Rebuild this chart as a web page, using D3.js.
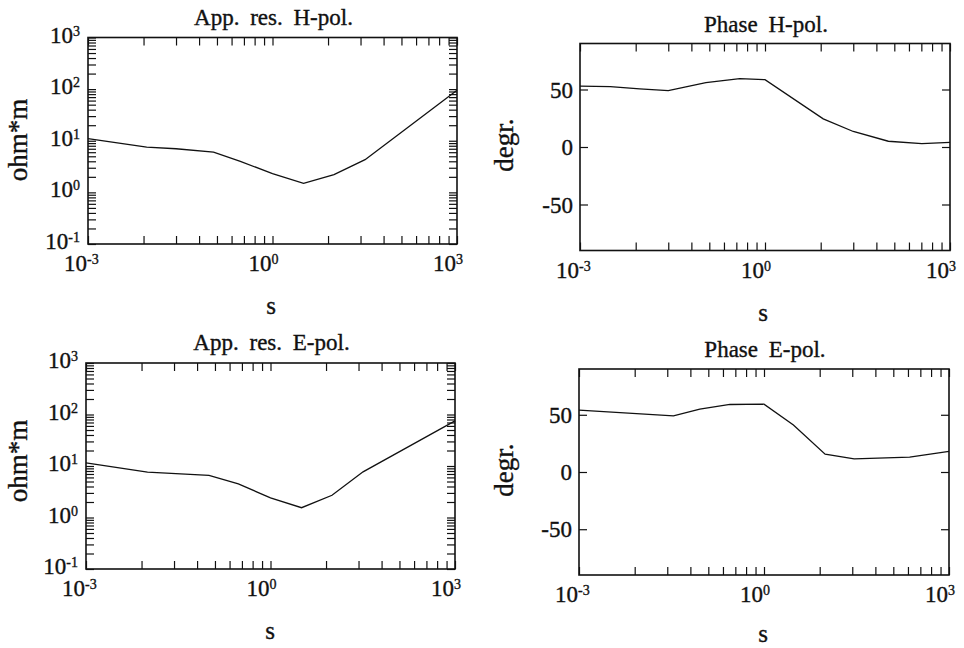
<!DOCTYPE html>
<html>
<head>
<meta charset="utf-8">
<script src="https://cdn.jsdelivr.net/npm/d3@7"></script>
<style>
  body { margin: 0; background: #fff; }
  svg { display: block; font-family: "Liberation Serif", "Times New Roman", serif; }
  text { fill: #111; stroke: #111; stroke-width: 0.35px; }
</style>
</head>
<body>
<svg id="chart" width="964" height="648"></svg>
<script>
// apparent resistivity, H-pol
const sResH = [0.001, 0.009, 0.027, 0.11, 0.3, 1, 3.2, 10, 32, 100, 1000];
const rhoH = [11, 7.5, 7, 6, 4, 2.3, 1.5, 2.2, 4.3, 12, 95];

// apparent resistivity, E-pol
const sResE = [0.001, 0.01, 0.1, 0.3, 1, 3.2, 10, 32, 1000];
const rhoE = [11.5, 7.6, 6.6, 4.5, 2.4, 1.55, 2.7, 7.7, 75];

// phase, H-pol
const sPhH = [0.001, 0.0031, 0.0093, 0.027, 0.11, 0.39, 1.0, 8.8, 27, 100, 350, 1000];
const phH = [53, 52.5, 50.5, 49, 56, 59.5, 58.5, 24.5, 13.5, 5, 3, 4];

// phase, E-pol
const sPhE = [0.001, 0.034, 0.091, 0.28, 1.0, 3.0, 9.8, 29, 230, 1000];
const phE = [54, 49, 55, 59, 59.3, 41, 15.5, 11.5, 13, 18];

// tick labels
const xMajor = [1e-3, 1, 1e3];
const xMajorExp = ["-3", "0", "3"];
const resMajor = [1e-1, 1, 1e1, 1e2, 1e3];
const resMajorExp = ["-1", "0", "1", "2", "3"];
const phMajor = [-50, 0, 50];

// x ticks: 2..9 cubed between the labelled values
const xTicks = [];
[1e-3, 1].forEach(b => d3.range(1, 10).forEach(k => xTicks.push(b * k * k * k)));
xTicks.push(1e3);

const resTicks = [];
[1e-1, 1, 1e1, 1e2].forEach(b => d3.range(1, 10).forEach(k => resTicks.push(b * k)));
resTicks.push(1e3);

const svg = d3.select("#chart");

function powLabel(g, x, y, exp, anchor) {
  const t = g.append("text")
    .attr("x", x).attr("y", y)
    .attr("text-anchor", anchor)
    .attr("font-size", 23);
  t.append("tspan").text("10");
  t.append("tspan").attr("dy", -7).attr("font-size", 14).text(exp);
  return t;
}

function panel(p) {
  const x = d3.scaleLog().domain([1e-3, 1e3]).range([p.left, p.right]);
  const y = p.log
    ? d3.scaleLog().domain([1e-1, 1e3]).range([p.bottom, p.top])
    : d3.scaleLinear().domain([-90, 90]).range([p.bottom, p.top]);
  const yTicks = p.log ? resTicks : phMajor;

  const g = svg.append("g").attr("color", "#111");

  g.append("g").attr("transform", `translate(0,${p.bottom})`)
    .call(d3.axisBottom(x).tickValues(xTicks).tickSize(-8).tickFormat(""));
  g.append("g").attr("transform", `translate(0,${p.top})`)
    .call(d3.axisTop(x).tickValues(xTicks).tickSize(-8).tickFormat(""));
  g.append("g").attr("transform", `translate(${p.left},0)`)
    .call(d3.axisLeft(y).tickValues(yTicks).tickSize(-8).tickFormat(""));
  g.append("g").attr("transform", `translate(${p.right},0)`)
    .call(d3.axisRight(y).tickValues(yTicks).tickSize(-8).tickFormat(""));
  g.selectAll(".domain").remove();
  g.selectAll(".tick line").attr("stroke-width", 1.2);

  g.append("rect")
    .attr("x", p.left).attr("y", p.top)
    .attr("width", p.right - p.left).attr("height", p.bottom - p.top)
    .attr("fill", "none").attr("stroke", "#111").attr("stroke-width", 1.6);

  // x labels
  xMajor.forEach((v, i) => {
    g.append("text").attr("x", x(v) - 1).attr("y", p.bottom + 27)
      .attr("text-anchor", "end").attr("font-size", 23).text("10");
    g.append("text").attr("x", x(v) - 1).attr("y", p.bottom + 20)
      .attr("font-size", 14).text(xMajorExp[i]);
  });

  // y labels
  if (p.log) {
    resMajor.forEach((v, i) => powLabel(g, p.left - 8, y(v) + 5, resMajorExp[i], "end"));
  } else {
    phMajor.forEach(v => {
      g.append("text").attr("x", p.left - 7).attr("y", y(v) + 8)
        .attr("text-anchor", "end").attr("font-size", 23).text(v);
    });
  }

  g.append("text").attr("x", (p.left + p.right) / 2 + 1).attr("y", p.titleY)
    .attr("text-anchor", "middle").attr("font-size", 23)
    .attr("word-spacing", 5).text(p.title);

  g.append("text").attr("x", p.sX).attr("y", p.sY)
    .attr("text-anchor", "middle").attr("font-size", 25).text("s");

  g.append("text")
    .attr("transform", `translate(${p.yLabX},${p.yLabY}) rotate(-90)`)
    .attr("text-anchor", "middle").attr("font-size", 27).text(p.yLabel);

  const line = d3.line()
    .x(d => x(d[0]))
    .y(d => y(d[1]));

  g.append("path")
    .datum(d3.zip(p.s, p.v))
    .attr("fill", "none")
    .attr("stroke", "#111")
    .attr("stroke-width", 1.3)
    .attr("d", line);
}

panel({ left: 88, right: 457, top: 37.5, bottom: 244, log: true,
  title: "App. res. H-pol.", titleY: 25, sX: 271, sY: 314,
  yLabel: "ohm*m", yLabX: 27, yLabY: 140, s: sResH, v: rhoH });

panel({ left: 580, right: 950, top: 43.5, bottom: 250.5, log: false,
  title: "Phase H-pol.", titleY: 32, sX: 763, sY: 321,
  yLabel: "degr.", yLabX: 513, yLabY: 145, s: sPhH, v: phH });

panel({ left: 86, right: 455, top: 363, bottom: 569, log: true,
  title: "App. res. E-pol.", titleY: 350, sX: 270, sY: 639,
  yLabel: "ohm*m", yLabX: 27, yLabY: 461, s: sResE, v: rhoE });

panel({ left: 579, right: 949, top: 369, bottom: 575, log: false,
  title: "Phase E-pol.", titleY: 357, sX: 763, sY: 642,
  yLabel: "degr.", yLabX: 513, yLabY: 470, s: sPhE, v: phE });
</script>
</body>
</html>
